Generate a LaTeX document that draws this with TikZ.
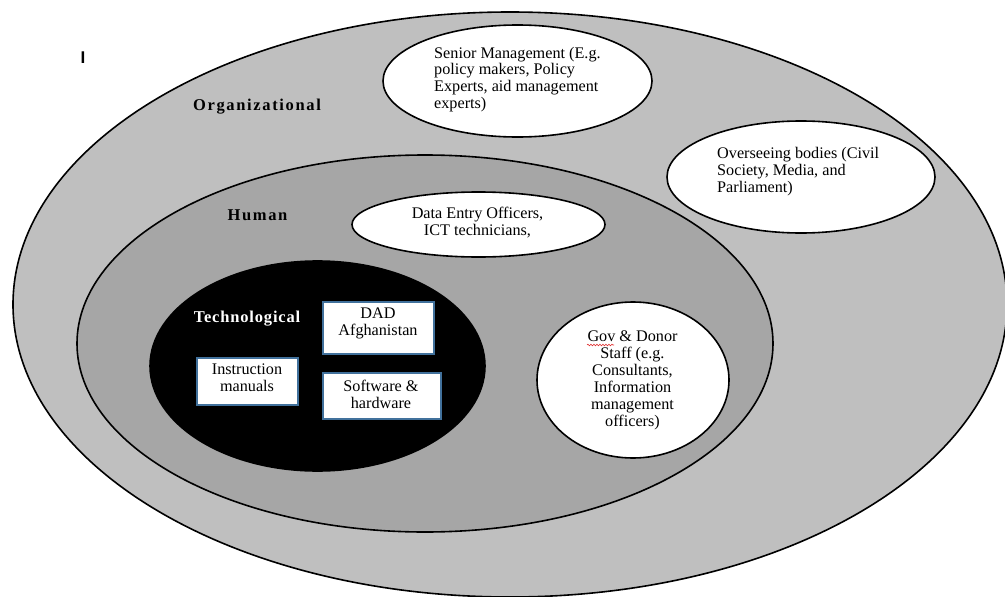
\documentclass[tikz,border=0pt]{standalone}
\usepackage{fontspec}
\setmainfont{Liberation Serif}
\newfontfamily\sansI{Liberation Sans}
\usetikzlibrary{shapes.geometric,decorations.pathmorphing}
\definecolor{outerg}{HTML}{BFBFBF}
\definecolor{midg}{HTML}{A6A6A6}
\definecolor{boxb}{HTML}{41719C}
\definecolor{spellred}{HTML}{E03030}
\begin{document}
\begin{tikzpicture}[x=1pt,y=-1pt,
  ring/.style={ellipse, draw=black, line width=1.6pt, inner sep=0pt},
  bubble/.style={ellipse, draw=black, line width=1.6pt, fill=white, inner sep=0pt},
  techbox/.style={rectangle, draw=boxb, line width=1.9pt, fill=white, inner sep=0pt},
  txt/.style={inner sep=0pt, font=\fontsize{16.2}{17}\selectfont, align=center},
  ltxt/.style={inner sep=0pt, font=\fontsize{16.2}{16.8}\selectfont, align=left, anchor=west},
  lbl/.style={inner sep=0pt, font=\fontsize{16.5}{17}\selectfont\bfseries}
]
\useasboundingbox (0,0) rectangle (1005,597);
% layers
\node[ring, fill=outerg, minimum width=994pt, minimum height=585pt] (org) at (510,304.5) {};
\node[ring, fill=midg, minimum width=696pt, minimum height=377pt] (hum) at (425,343.5) {};
\node[ring, fill=black, minimum width=335pt, minimum height=210pt] (tech) at (317.5,366) {};
% white bubbles
\node[bubble, minimum width=269pt, minimum height=112pt] (senior) at (517.5,81) {};
\node[bubble, minimum width=268pt, minimum height=112pt] (overs) at (801,177) {};
\node[bubble, minimum width=253pt, minimum height=65pt] (dataentry) at (478.5,224.5) {};
\node[bubble, minimum width=192pt, minimum height=156pt] (gov) at (633,380) {};
% boxes
\node[techbox, minimum width=111pt, minimum height=52pt] (dad) at (378.5,328) {};
\node[techbox, minimum width=101pt, minimum height=47pt] (manual) at (247.5,381.5) {};
\node[techbox, minimum width=118pt, minimum height=46pt] (soft) at (382,396) {};
% labels
\node[lbl] (orglbl) at (257,107) {\addfontfeature{LetterSpace=10}Organizational};
\node[lbl] (humlbl) at (257.5,215) {\addfontfeature{LetterSpace=10}Human};
\node[lbl, text=white] (techlbl) at (247,319) {\addfontfeature{LetterSpace=5}Technological};
\node[inner sep=0pt, font=\fontsize{17}{17}\sansI\bfseries] (cursor) at (83,58) {I};
% texts
\node[ltxt] (seniortxt) at (434,79.5) {Senior Management (E.g.\\policy makers, Policy\\Experts, aid management\\experts)};
\node[ltxt] (overstxt) at (717,171.5) {Overseeing bodies (Civil\\Society, Media, and\\Parliament)};
\node[txt] (detxt) at (477.5,223) {Data Entry Officers,\\ICT technicians,};
\node[txt] (govtxt) at (632.5,380.5) {Gov \& Donor\\Staff (e.g.\\Consultants,\\Information\\management\\officers)};
\node[txt] (dadtxt) at (378,323) {DAD\\Afghanistan};
\node[txt] (mantxt) at (247,378) {Instruction\\manuals};
\node[txt] (softtxt) at (381,394) {Software \&\\hardware};
% spell-check underline
\draw[spellred, line width=0.6pt, decorate, decoration={snake, amplitude=0.8pt, segment length=3pt}] (587,345) -- (614,345);
\end{tikzpicture}
\end{document}
